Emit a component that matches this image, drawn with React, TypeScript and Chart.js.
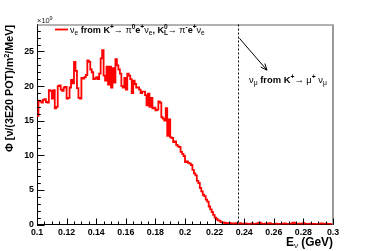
import React, { useEffect, useRef } from 'react';
import { Chart, registerables } from 'chart.js';

Chart.register(...registerables);

// Histogram: flux in units of 1e9, bins of 1 MeV from 0.100 to 0.300 GeV
const E_MIN = 0.1;
const E_MAX = 0.3;
const BIN_WIDTH = 0.001;

// 0.100 – 0.150 GeV
const fluxA = [15.7, 17.9, 17.8, 17.6, 18.0, 18.1, 17.7, 17.6, 19.4, 19.3, 18.2, 19.4, 16.8, 17.0, 20.0, 20.1, 19.5, 19.3, 19.8, 19.9,
  18.2, 18.3, 19.8, 20.9, 20.4, 23.5, 22.2, 19.7, 18.3, 18.2, 21.2, 21.1, 21.3, 21.6, 23.7, 23.5, 22.4, 22.0, 21.0, 21.1,
  21.3, 21.0, 21.8, 24.0, 25.2, 21.5, 20.8, 22.8, 20.2, 22.8];
// 0.150 – 0.200 GeV
const fluxB = [19.8, 22.6, 20.5, 23.9, 23.0, 22.4, 21.8, 20.0, 19.8, 21.2, 19.5, 21.8, 21.5, 21.0, 19.0, 20.8, 20.3, 19.8, 19.8, 19.5,
  19.0, 19.2, 19.2, 18.7, 17.2, 18.9, 17.0, 18.3, 16.8, 16.9, 16.5, 16.6, 17.8, 17.6, 15.5, 15.3, 15.0, 16.8, 12.8, 15.2,
  12.6, 12.5, 11.9, 12.0, 11.5, 11.3, 11.2, 10.5, 10.2, 9.9];
// 0.200 – 0.250 GeV
const fluxC = [9.0, 9.1, 8.9, 8.8, 8.6, 7.9, 7.4, 7.1, 6.3, 6.0, 5.3, 4.8, 4.3, 4.1, 3.6, 3.3, 2.6, 2.2, 1.8, 1.4,
  1.0, 0.8, 0.6, 0.55, 0.35, 0.3, 0.25, 0.22, 0.2, 0.18, 0.2, 0.15, 0.1, 0.15, 0.2, 0.1, 0.12, 0.18, 0.1, 0.08,
  0.15, 0.12, 0.1, 0.05, 0.1, 0.15, 0.08, 0.1, 0.12, 0.2];
// 0.250 – 0.300 GeV
const fluxD = [0.25, 0.15, 0.1, 0.08, 0.12, 0.1, 0.15, 0.2, 0.1, 0.08, 0.1, 0.12, 0.05, 0.08, 0.05, 0.1, 0.12, 0.15, 0.1, 0.08,
  0.06, 0.1, 0.2, 0.25, 0.18, 0.1, 0.08, 0.12, 0.1, 0.15, 0.2, 0.1, 0.08, 0.1, 0.12, 0.05, 0.08, 0.1, 0.06, 0.05,
  0.1, 0.12, 0.15, 0.08, 0.1, 0.12, 0.1, 0.08, 0.05, 0.06];

const Y_MIN = 0;
const Y_MAX = 28.9;
const X_TICK_STEP = 0.02;
const Y_TICK_STEP = 5;

// K+ -> mu+ nu_mu line energy (GeV) and annotation arrow (data coords)
const NUMU_LINE_E = 0.2355;
const ARROW_FROM = { x: 0.2368, y: 26.9 };
const ARROW_TO = { x: 0.2554, y: 22.3 };

const FONT = '"Liberation Sans", Arial, Helvetica, sans-serif';

type Seg = { t: string; s: number; b?: boolean; dy?: number; adv?: boolean };

function setFont(ctx: CanvasRenderingContext2D, seg: Seg, k: number) {
  ctx.font = `${seg.b ? 'bold ' : ''}${seg.s * k}px ${FONT}`;
}
function richWidth(ctx: CanvasRenderingContext2D, segs: Seg[], k: number) {
  let w = 0;
  for (const seg of segs) {
    setFont(ctx, seg, k);
    if (seg.adv !== false) w += ctx.measureText(seg.t).width;
  }
  return w;
}
function drawRichFit(ctx: CanvasRenderingContext2D, segs: Seg[], x: number, y: number, target: number) {
  const w0 = richWidth(ctx, segs, 1);
  const k = target / w0;
  let cx = x;
  ctx.textAlign = 'left';
  ctx.textBaseline = 'alphabetic';
  for (const seg of segs) {
    setFont(ctx, seg, k);
    ctx.fillText(seg.t, cx, y + (seg.dy || 0) * k);
    if (seg.adv !== false) cx += ctx.measureText(seg.t).width;
  }
}

const legendSegs: Seg[] = [
  { t: 'ν', s: 9 }, { t: 'e', s: 6.5, dy: 2 },
  { t: ' from K', s: 9, b: true }, { t: '+', s: 6.5, dy: -3.5, b: true },
  { t: '→ ', s: 9 }, { t: 'π', s: 9 }, { t: '0', s: 6.5, dy: -3.5, b: true },
  { t: 'e', s: 9, b: true }, { t: '+', s: 6.5, dy: -3.5, b: true },
  { t: 'ν', s: 9 }, { t: 'e', s: 6.5, dy: 2 },
  { t: ', K', s: 9, b: true }, { t: 'L', s: 6.5, dy: 2, b: true, adv: false }, { t: '0', s: 6.5, dy: -3.5, b: true },
  { t: '→ ', s: 9 }, { t: 'π', s: 9 }, { t: '-', s: 6.5, dy: -3.5, b: true },
  { t: 'e', s: 9, b: true }, { t: '+', s: 6.5, dy: -3.5, b: true },
  { t: 'ν', s: 9 }, { t: 'e', s: 6.5, dy: 2 },
];

const numuSegs: Seg[] = [
  { t: 'ν', s: 8 }, { t: 'μ', s: 5.8, dy: 2 },
  { t: ' from K', s: 8, b: true }, { t: '+', s: 5.8, dy: -3, b: true },
  { t: '→ ', s: 8 }, { t: 'μ', s: 8 }, { t: '+', s: 5.8, dy: -3, b: true },
  { t: ' ν', s: 8 }, { t: 'μ', s: 5.8, dy: 2 },
];

const yTitleSegs: Seg[] = [
  { t: 'Φ [ν/(3E20 POT)/m', s: 11, b: true }, { t: '2', s: 7.5, dy: -4, b: true }, { t: '/MeV]', s: 11, b: true },
];

const xTitleSegs: Seg[] = [
  { t: 'E', s: 11, b: true }, { t: 'ν', s: 7.5, dy: 2.5 }, { t: ' (GeV)', s: 11, b: true },
];

const overlayPlugin = {
  id: 'rootOverlay',
  afterDraw(chart: any) {
    const ctx: CanvasRenderingContext2D = chart.ctx;
    const xs = chart.scales.x;
    const ys = chart.scales.y;
    const { left, right, top, bottom } = chart.chartArea;
    ctx.save();

    // frame top & right
    ctx.strokeStyle = '#666';
    ctx.lineWidth = 1;
    ctx.beginPath();
    ctx.moveTo(left, top + 0.5);
    ctx.lineTo(right, top + 0.5);
    ctx.stroke();
    ctx.strokeStyle = '#999';
    ctx.lineWidth = 2;
    ctx.beginPath();
    ctx.moveTo(right, top);
    ctx.lineTo(right, bottom);
    ctx.stroke();

    // inner tick marks
    ctx.strokeStyle = '#000';
    ctx.lineWidth = 1;
    ctx.beginPath();
    const nx = Math.round((E_MAX - E_MIN) / 0.005);
    for (let k = 0; k <= nx; k++) {
      const px = Math.round(xs.getPixelForValue(E_MIN + k * 0.005)) + 0.5;
      const len = k % 4 === 0 ? 6 : 3;
      ctx.moveTo(px, bottom);
      ctx.lineTo(px, bottom - len);
    }
    for (let k = 0; k <= Math.floor(Y_MAX); k++) {
      const py = Math.round(ys.getPixelForValue(k)) + 0.5;
      const len = k % 5 === 0 ? 7.5 : 3.8;
      ctx.moveTo(left, py);
      ctx.lineTo(left + len, py);
    }
    ctx.stroke();

    // dashed vertical line at K -> mu nu energy
    const lx = Math.round(xs.getPixelForValue(NUMU_LINE_E)) + 0.5;
    ctx.setLineDash([2, 2]);
    ctx.beginPath();
    ctx.moveTo(lx, top);
    ctx.lineTo(lx, bottom);
    ctx.stroke();
    ctx.setLineDash([]);

    // arrow
    const ax0 = xs.getPixelForValue(ARROW_FROM.x), ay0 = ys.getPixelForValue(ARROW_FROM.y);
    const ax1 = xs.getPixelForValue(ARROW_TO.x), ay1 = ys.getPixelForValue(ARROW_TO.y);
    const ang = Math.atan2(ay1 - ay0, ax1 - ax0);
    ctx.lineWidth = 1;
    ctx.beginPath();
    ctx.moveTo(ax0, ay0);
    ctx.lineTo(ax1, ay1);
    const hl = 7, ha = 0.4;
    ctx.moveTo(ax1 - hl * Math.cos(ang - ha), ay1 - hl * Math.sin(ang - ha));
    ctx.lineTo(ax1, ay1);
    ctx.lineTo(ax1 - hl * Math.cos(ang + ha), ay1 - hl * Math.sin(ang + ha));
    ctx.stroke();

    ctx.fillStyle = '#000';
    // annotation text
    drawRichFit(ctx, numuSegs, 249, 83, 78);

    // legend
    ctx.strokeStyle = '#ff0000';
    ctx.lineWidth = 1.8;
    ctx.beginPath();
    ctx.moveTo(55, 29.5);
    ctx.lineTo(68, 29.5);
    ctx.stroke();
    drawRichFit(ctx, legendSegs, 70, 33, 135);

    // exponent
    ctx.fillStyle = '#222';
    ctx.font = `7.5px ${FONT}`;
    ctx.textAlign = 'left';
    ctx.fillText('×10', 37, 23);
    ctx.font = `5.5px ${FONT}`;
    ctx.fillText('9', 49.5, 20);

    // axis titles
    ctx.fillStyle = '#000';
    ctx.save();
    ctx.translate(12.5, 152);
    ctx.rotate(-Math.PI / 2);
    drawRichFit(ctx, yTitleSegs, 0, 0, 127);
    ctx.restore();

    const xw = 47;
    drawRichFit(ctx, xTitleSegs, right - xw, 245.7, xw);

    ctx.restore();
  },
};

export default function App() {
  const canvasRef = useRef<HTMLCanvasElement | null>(null);

  useEffect(() => {
    const canvas = canvasRef.current;
    if (!canvas) return;
    const flux = [...fluxA, ...fluxB, ...fluxC, ...fluxD];
    const points = flux.map((v, i) => ({ x: E_MIN + i * BIN_WIDTH, y: v }));
    points.push({ x: E_MIN + flux.length * BIN_WIDTH, y: flux[flux.length - 1] });

    const tickFont = { family: FONT, size: 8.8, weight: 'bold' as const };

    const chart = new Chart(canvas, {
      type: 'line',
      data: {
        datasets: [
          {
            label: 'flux',
            data: points,
            borderColor: '#ff0000',
            borderWidth: 1.8,
            pointRadius: 0,
            stepped: 'before',
            fill: false,
          },
        ],
      },
      options: {
        animation: false,
        responsive: false,
        devicePixelRatio: 1,
        layout: { padding: { left: 0, right: 37, top: 24.5, bottom: 0 } },
        plugins: { legend: { display: false }, tooltip: { enabled: false } },
        scales: {
          x: {
            type: 'linear',
            min: E_MIN,
            max: E_MAX,
            grid: { display: false, drawTicks: false },
            border: { display: true, color: '#000', width: 1 },
            ticks: {
              stepSize: X_TICK_STEP,
              autoSkip: false,
              maxRotation: 0,
              padding: 3,
              color: '#000',
              font: tickFont,
              callback: (v: any) => String(Number(Number(v).toFixed(2))),
            },
            afterFit: (s: any) => { s.height = 26.5; },
          },
          y: {
            type: 'linear',
            min: Y_MIN,
            max: Y_MAX,
            grid: { display: false, drawTicks: false },
            border: { display: true, color: '#000', width: 1 },
            ticks: {
              stepSize: Y_TICK_STEP,
              includeBounds: false,
              padding: 3,
              color: '#000',
              font: tickFont,
              callback: (v: any) => String(Math.round(Number(v))),
            },
            afterFit: (s: any) => { s.width = 37; },
          },
        },
      },
      plugins: [overlayPlugin],
    } as any);

    return () => chart.destroy();
  }, []);

  return (
    <div style={{ position: 'fixed', left: 0, top: 0, width: 370, height: 251, background: '#fff' }}>
      <canvas ref={canvasRef} width={370} height={251} style={{ display: 'block' }} />
    </div>
  );
}
